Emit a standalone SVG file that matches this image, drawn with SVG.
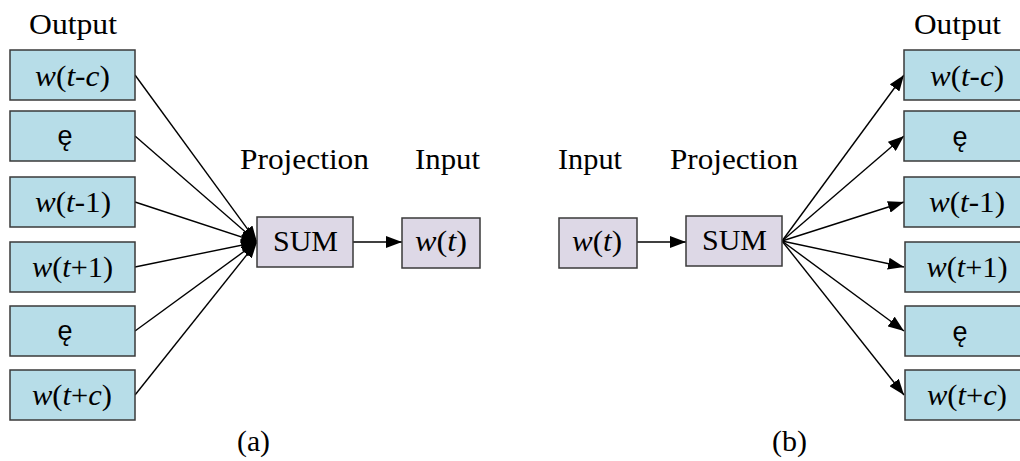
<svg xmlns="http://www.w3.org/2000/svg" width="1020" height="461" viewBox="0 0 1020 461">
<defs>
<marker id="ah" markerUnits="userSpaceOnUse" markerWidth="16" markerHeight="12" refX="16" refY="6" orient="auto">
<path d="M0,0 L16,6 L0,12 z" fill="#000"/>
</marker>
<style>
.ob{fill:#b7dde8;stroke:#3a3a3a;stroke-width:1.5}
.pb{fill:#ddd8e6;stroke:#3a3a3a;stroke-width:1.5}
.t{font-family:'Liberation Serif',serif;font-size:30px;fill:#000;text-anchor:middle}
.s{font-family:'Liberation Sans',sans-serif;font-size:27px;fill:#000;text-anchor:middle}
.i{font-style:italic}
.c{stroke:#000;stroke-width:1.4;fill:none;marker-end:url(#ah)}
</style>
</defs>
<rect width="1020" height="461" fill="#fff"/>

<g id="labels">
<text class="t" font-family="Liberation Serif" x="73" y="34" textLength="88" lengthAdjust="spacingAndGlyphs">Output</text>
<text class="t" font-family="Liberation Serif" x="957.5" y="34" textLength="87" lengthAdjust="spacingAndGlyphs">Output</text>
<text class="t" font-family="Liberation Serif" x="304.5" y="169" textLength="129" lengthAdjust="spacingAndGlyphs">Projection</text>
<text class="t" font-family="Liberation Serif" x="447.5" y="169" textLength="65" lengthAdjust="spacingAndGlyphs">Input</text>
<text class="t" font-family="Liberation Serif" x="590" y="169" textLength="64" lengthAdjust="spacingAndGlyphs">Input</text>
<text class="t" font-family="Liberation Serif" x="734" y="169" textLength="128" lengthAdjust="spacingAndGlyphs">Projection</text>
<text class="t" font-family="Liberation Serif" x="253.5" y="451" textLength="33" lengthAdjust="spacingAndGlyphs">(a)</text>
<text class="t" font-family="Liberation Serif" x="789.5" y="451" textLength="35" lengthAdjust="spacingAndGlyphs">(b)</text>
</g>

<g id="connectors">
<line class="c" x1="135" y1="75" x2="257" y2="242"/>
<line class="c" x1="135" y1="136" x2="257" y2="242"/>
<line class="c" x1="135" y1="202" x2="257" y2="242"/>
<line class="c" x1="135" y1="267" x2="257" y2="242"/>
<line class="c" x1="135" y1="331" x2="257" y2="242"/>
<line class="c" x1="135" y1="395" x2="257" y2="242"/>
<line class="c" x1="353" y1="242" x2="402" y2="242"/>
<line class="c" x1="637" y1="242" x2="686" y2="242"/>
<line class="c" x1="782" y1="241" x2="904" y2="75"/>
<line class="c" x1="782" y1="241" x2="904" y2="136"/>
<line class="c" x1="782" y1="241" x2="904" y2="202"/>
<line class="c" x1="782" y1="241" x2="904" y2="267"/>
<line class="c" x1="782" y1="241" x2="904" y2="331"/>
<line class="c" x1="782" y1="241" x2="904" y2="395"/>
</g>

<g id="a-out1"><rect class="ob" x="10" y="50" width="125" height="50"/><text class="t" font-family="Liberation Serif" x="72.5" y="86" textLength="75" lengthAdjust="spacingAndGlyphs"><tspan class="i">w</tspan>(<tspan class="i">t</tspan>-<tspan class="i">c</tspan>)</text></g>
<g id="a-out2"><rect class="ob" x="10" y="111" width="125" height="50"/><text class="s" font-family="Liberation Sans" x="65" y="145">ę</text></g>
<g id="a-out3"><rect class="ob" x="10" y="177" width="125" height="50"/><text class="t" font-family="Liberation Serif" x="73" y="212" textLength="76" lengthAdjust="spacingAndGlyphs"><tspan class="i">w</tspan>(<tspan class="i">t</tspan>-1)</text></g>
<g id="a-out4"><rect class="ob" x="10" y="242" width="125" height="50"/><text class="t" font-family="Liberation Serif" x="72.5" y="277" textLength="81" lengthAdjust="spacingAndGlyphs"><tspan class="i">w</tspan>(<tspan class="i">t</tspan>+1)</text></g>
<g id="a-out5"><rect class="ob" x="10" y="306" width="125" height="50"/><text class="s" font-family="Liberation Sans" x="65" y="340">ę</text></g>
<g id="a-out6"><rect class="ob" x="10" y="370" width="125" height="50"/><text class="t" font-family="Liberation Serif" x="72" y="405" textLength="80" lengthAdjust="spacingAndGlyphs"><tspan class="i">w</tspan>(<tspan class="i">t</tspan>+<tspan class="i">c</tspan>)</text></g>

<g id="a-sum"><rect class="pb" x="257" y="217" width="96" height="50"/><text class="t" font-family="Liberation Serif" x="305.5" y="251" textLength="65" lengthAdjust="spacingAndGlyphs">SUM</text></g>
<g id="a-in"><rect class="pb" x="402" y="218" width="78" height="50"/><text class="t" font-family="Liberation Serif" x="441" y="251" textLength="52" lengthAdjust="spacingAndGlyphs"><tspan class="i">w</tspan>(<tspan class="i">t</tspan>)</text></g>

<g id="b-in"><rect class="pb" x="559" y="218" width="78" height="50"/><text class="t" font-family="Liberation Serif" x="597" y="251" textLength="50" lengthAdjust="spacingAndGlyphs"><tspan class="i">w</tspan>(<tspan class="i">t</tspan>)</text></g>
<g id="b-sum"><rect class="pb" x="686" y="216" width="96" height="50"/><text class="t" font-family="Liberation Serif" x="734.5" y="250" textLength="65" lengthAdjust="spacingAndGlyphs">SUM</text></g>

<g id="b-out1"><rect class="ob" x="904" y="50" width="126" height="50"/><text class="t" font-family="Liberation Serif" x="967" y="86" textLength="74" lengthAdjust="spacingAndGlyphs"><tspan class="i">w</tspan>(<tspan class="i">t</tspan>-<tspan class="i">c</tspan>)</text></g>
<g id="b-out2"><rect class="ob" x="904" y="111" width="126" height="50"/><text class="s" font-family="Liberation Sans" x="960" y="146">ę</text></g>
<g id="b-out3"><rect class="ob" x="904" y="177" width="126" height="50"/><text class="t" font-family="Liberation Serif" x="967" y="212" textLength="76" lengthAdjust="spacingAndGlyphs"><tspan class="i">w</tspan>(<tspan class="i">t</tspan>-1)</text></g>
<g id="b-out4"><rect class="ob" x="905" y="242" width="126" height="50"/><text class="t" font-family="Liberation Serif" x="967" y="277" textLength="81" lengthAdjust="spacingAndGlyphs"><tspan class="i">w</tspan>(<tspan class="i">t</tspan>+1)</text></g>
<g id="b-out5"><rect class="ob" x="905" y="306" width="126" height="50"/><text class="s" font-family="Liberation Sans" x="960" y="341">ę</text></g>
<g id="b-out6"><rect class="ob" x="905" y="370" width="126" height="50"/><text class="t" font-family="Liberation Serif" x="967" y="405" textLength="80" lengthAdjust="spacingAndGlyphs"><tspan class="i">w</tspan>(<tspan class="i">t</tspan>+<tspan class="i">c</tspan>)</text></g>
</svg>
